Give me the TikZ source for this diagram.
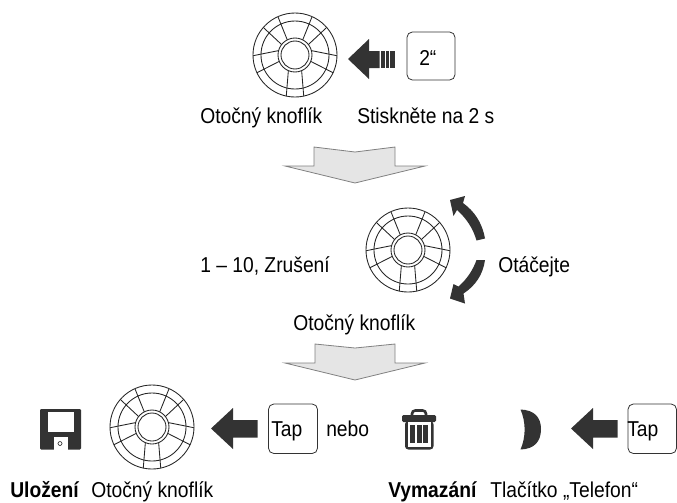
\documentclass[tikz,border=0pt]{standalone}
\usepackage{fontspec}
\setmainfont[FakeStretch=0.895]{Liberation Sans}
\usetikzlibrary{arrows.meta}
\colorlet{darkfill}{black!80}
\tikzset{
  label/.style={inner sep=0pt, anchor=base west, font=\fontsize{16.2}{18}\selectfont},
  boldlabel/.style={label, font=\fontsize{16.2}{18}\selectfont\bfseries},
  grayarrow/.style={draw=black!50, fill=black!10, line width=0.6pt},
  solidarrow/.style={fill=darkfill},
  keybox/.style={draw=black!80, line width=0.6pt, rounded corners=4pt},
  knobline/.style={draw=black!85, line width=0.65pt},
  knob/.pic={
    \draw[knobline] (0, 0) circle (42);
    \draw[knobline] (0, 0) circle (34);
    \draw[knobline] (0, 0) circle (17);
    \draw[knobline] (0, 0) circle (14);
    \foreach \a/\b in {113/102, 67/78, 158/155, 22/25, 195/179, -15/1, 218/221, -38/-41, 243/246, -63/-66}
      \draw[knobline] (\a:17) -- (\b:42);
  }
}
\begin{document}
\begin{tikzpicture}[x=0.02646cm, y=-0.02646cm]
  \useasboundingbox (0, 0) rectangle (677, 502);
  % first row
  \pic at (295, 55) {knob};
  \fill[solidarrow] (348, 59) -- (369, 39) -- (369, 51) -- (379.7, 51) -- (379.7, 68) -- (369, 68) -- (369, 79) -- cycle;
  \fill[solidarrow] (380.5, 51) rectangle (384.7, 68);
  \fill[solidarrow] (385.5, 51) rectangle (389.4, 68);
  \fill[solidarrow] (390.2, 51) rectangle (395, 68);
  \draw[keybox] (407, 32) rectangle (455, 80);
  \node[label] (press) at (419, 65) {2“};
  \node[label] (knobtop) at (200, 123) {Otočný knoflík};
  \node[label] (hold) at (357, 123) {Stiskněte na 2 s};
  % first gray arrow
  \draw[grayarrow] (314, 147) -- (355, 152) -- (395, 147) -- (395, 166) -- (425, 166) -- (355, 183) -- (285, 166) -- (314, 166) -- cycle;
  % second row
  \pic at (408, 250) {knob};
  \fill[solidarrow] (485, 238.5) .. controls (482, 222) and (474, 211) .. (463, 203) -- (465, 196) -- (450, 200) -- (453.5, 216) -- (457, 210) .. controls (466, 218) and (473, 228) .. (476.5, 240.5) -- cycle;
  \fill[solidarrow] (485, 260) .. controls (483, 275) and (475, 286) .. (463.5, 293.5) -- (465, 303.5) -- (450, 298.5) -- (453.5, 284) -- (458.5, 286.5) .. controls (467, 279) and (473, 270) .. (476.5, 260) -- cycle;
  \node[label] (range) at (200, 272) {1 – 10, Zrušení};
  \node[label] (turn) at (498, 272) {Otáčejte};
  \node[label] (knobmid) at (293, 330) {Otočný knoflík};
  % second gray arrow
  \draw[grayarrow] (315, 344) -- (355, 348) -- (395, 344) -- (395, 363) -- (425, 363) -- (355, 380) -- (285, 363) -- (315, 363) -- cycle;
  % third row
  \fill[darkfill, rounded corners=0.8pt] (40, 409) rectangle (81, 449.5);
  \fill[white] (47.5, 411.5) rectangle (73.5, 431.5);
  \fill[white] (53.5, 437) rectangle (67.5, 449.5);
  \draw[darkfill, line width=0.5pt] (60, 443.5) circle (2);
  \pic at (152, 427) {knob};
  \fill[solidarrow] (211, 428.5) -- (233, 408) -- (233, 420) -- (257.5, 420) -- (257.5, 437.5) -- (233, 437.5) -- (233, 449) -- cycle;
  \draw[keybox] (268.5, 404) rectangle (317.5, 453.5);
  \node[label] (tapleft) at (271, 436) {Tap};
  \node[label] (nebo) at (326, 436) {nebo};
  % trash can
  \draw[darkfill, line width=2pt, rounded corners=2.5pt] (412, 416) -- (412, 410.5) -- (426, 410.5) -- (426, 416);
  \fill[darkfill, rounded corners=1pt] (402, 415) rectangle (436, 422);
  \fill[darkfill, rounded corners=2.5pt] (405, 421) rectangle (433.5, 449.5);
  \fill[white] (408, 422) rectangle (430.5, 446.5);
  \foreach \x in {410, 416.5, 423}
    \fill[darkfill] (\x, 425) rectangle +(5, 18);
  % phone
  \fill[darkfill] (520.5, 409.5) .. controls (534, 410) and (541, 417) .. (541, 429) .. controls (541, 442) and (534, 449) .. (520.5, 449.5) .. controls (526, 437) and (526, 422) .. (520.5, 409.5) -- cycle;
  \fill[solidarrow] (571, 428.5) -- (593, 408) -- (593, 420) -- (617.5, 420) -- (617.5, 437.5) -- (593, 437.5) -- (593, 449) -- cycle;
  \draw[keybox] (628, 404) rectangle (676.5, 453.5);
  \node[label] (tapright) at (627, 436) {Tap};
  \node[boldlabel] (save) at (10, 497) {Uložení};
  \node[label] (knobbottom) at (91, 497) {Otočný knoflík};
  \node[boldlabel] (erase) at (388, 497) {Vymazání};
  \node[label] (phonekey) at (490, 497) {Tlačítko „Telefon“};
\end{tikzpicture}
\end{document}
